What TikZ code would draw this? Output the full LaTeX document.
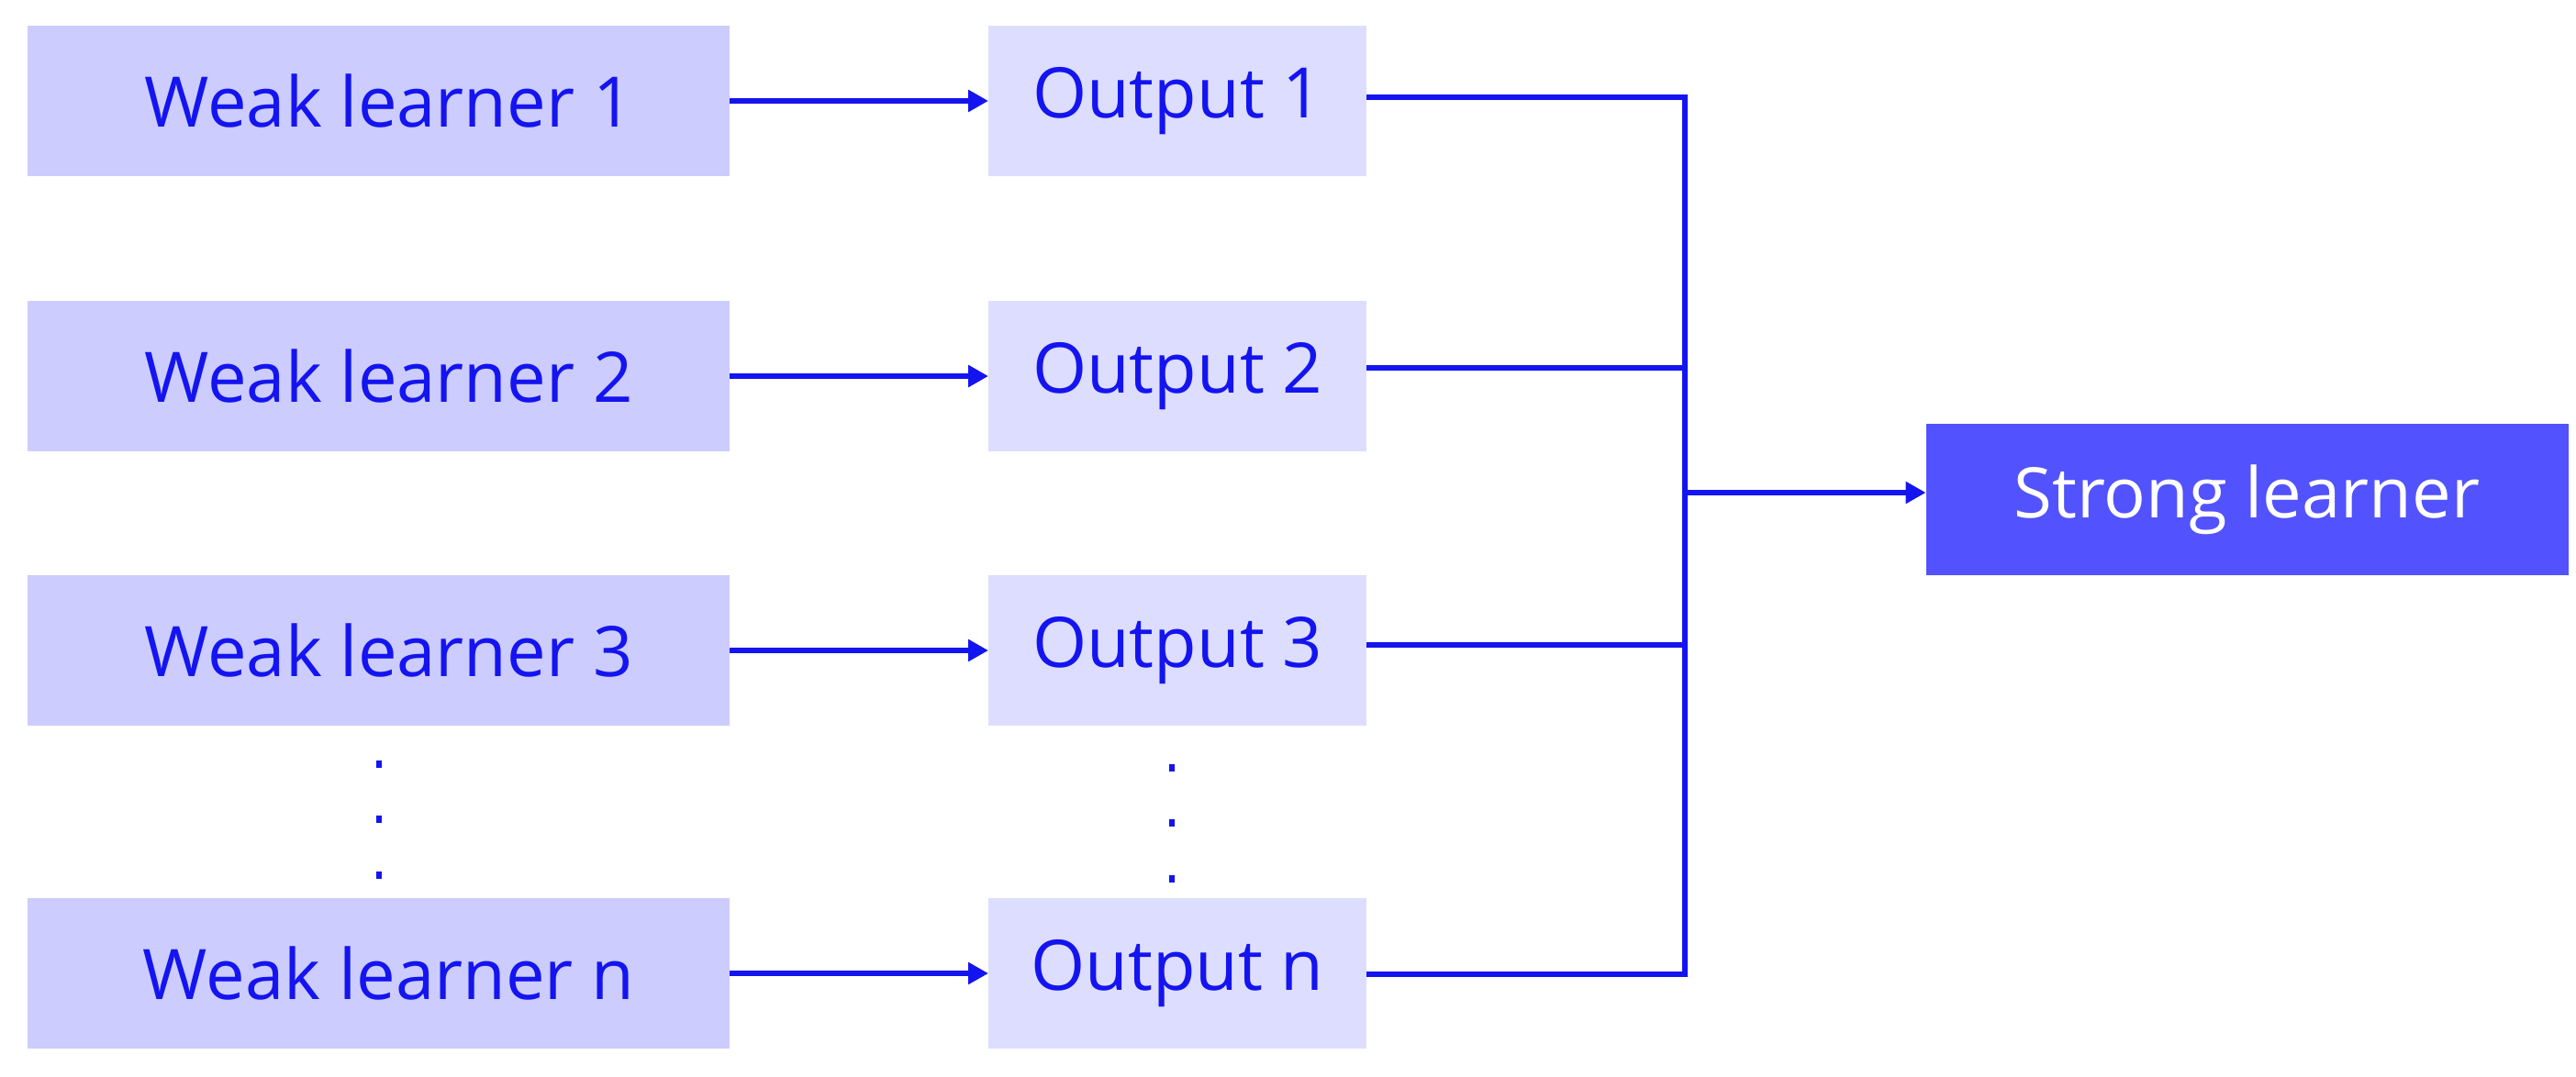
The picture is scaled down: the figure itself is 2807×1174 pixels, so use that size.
\documentclass[tikz,border=0pt]{standalone}
\usepackage{fontspec}
\setmainfont{Open Sans}
\usetikzlibrary{arrows.meta}
\definecolor{ink}{RGB}{20,20,240}
\definecolor{weakfill}{RGB}{204,204,255}
\definecolor{outfill}{RGB}{221,221,255}
\definecolor{strongfill}{RGB}{82,82,255}
\newcommand{\nudge}{\hspace*{22pt}}
\begin{document}
\begin{tikzpicture}[x=1pt,y=-1pt,
  boxbase/.style={inner sep=0pt, outer sep=0pt, minimum height=164pt,
    text=ink, font=\fontsize{76}{90}\selectfont},
  weakbox/.style={boxbase, fill=weakfill, minimum width=765pt},
  outbox/.style={boxbase, fill=outfill, minimum width=412pt},
  strongbox/.style={boxbase, fill=strongfill, text=white, minimum width=700pt, minimum height=165pt},
  wire/.style={draw=ink, line width=6.5pt},
  feed/.style={wire, -{Triangle[length=22pt,width=23pt]}},
  vdot/.style={fill=ink, inner sep=0pt, minimum width=6pt, minimum height=8pt}]
\useasboundingbox (0,0) rectangle (2807,1174);

% learners and their outputs
\node[weakbox] (w1) at (412.5,110) {\nudge Weak learner 1};
\node[weakbox] (w2) at (412.5,410) {\nudge Weak learner 2};
\node[weakbox] (w3) at (412.5,709) {\nudge Weak learner 3};
\node[weakbox] (wn) at (412.5,1061) {\nudge Weak learner n};

\node[outbox] (o1) at (1283,110) {Output 1};
\node[outbox] (o2) at (1283,410) {Output 2};
\node[outbox] (o3) at (1283,709) {Output 3};
\node[outbox] (on) at (1283,1061) {Output n};

\node[strongbox] (s) at (2448.5,544.5) {Strong learner};

% ellipsis dots between row 3 and row n
\node[vdot] (d1) at (413,833) {};
\node[vdot] (d2) at (413,893) {};
\node[vdot] (d3) at (413,954) {};
\node[vdot] (e1) at (1277,837) {};
\node[vdot] (e2) at (1277,897) {};
\node[vdot] (e3) at (1277,958) {};

% learner -> output arrows
\draw[feed] (w1.east) -- (o1.west);
\draw[feed] (w2.east) -- (o2.west);
\draw[feed] (w3.east) -- (o3.west);
\draw[feed] (wn.east) -- (on.west);

% collecting bus
\coordinate (b1) at (1836,106);
\coordinate (b2) at (1836,401);
\coordinate (b3) at (1836,703);
\coordinate (bn) at (1836,1062);
\coordinate (bs) at (1836,537);

\draw[wire] (o1.east |- b1) -- (b1);
\draw[wire] (o2.east |- b2) -- (b2);
\draw[wire] (o3.east |- b3) -- (b3);
\draw[wire] (on.east |- bn) -- (bn);
\draw[wire] ([yshift=3.25pt]b1) -- ([yshift=-3.25pt]bn);
\draw[feed] (bs) -- (s.west |- bs);
\end{tikzpicture}
\end{document}
